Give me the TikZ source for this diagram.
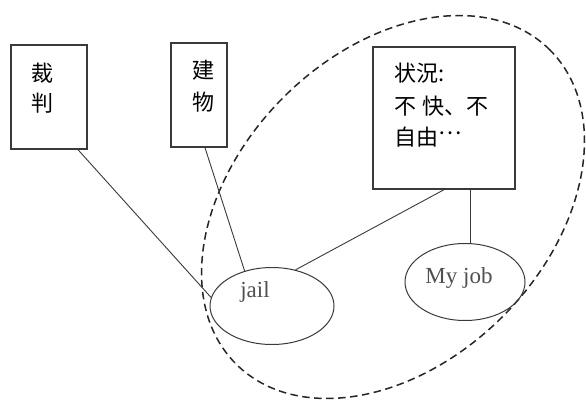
\documentclass[tikz,border=0pt]{standalone}
\usepackage{fontspec}
\setmainfont{Liberation Serif}
\newfontfamily\cjk{Noto Sans CJK JP}
\usetikzlibrary{shapes.geometric}
\definecolor{ink}{HTML}{3A3A3A}
\definecolor{lbl}{HTML}{505050}
\tikzset{
  boxnode/.style={draw=ink, line width=1.4pt, rectangle, inner sep=0pt},
  ovalnode/.style={draw=ink, line width=1pt, ellipse, inner sep=0pt, minimum width=124pt, minimum height=77pt},
  cjktext/.style={anchor=base west, inner sep=0pt, text=black, font=\cjk\fontsize{22}{32}\selectfont},
  lattext/.style={inner sep=0pt, text=lbl, font=\fontsize{23}{26}\selectfont},
  link/.style={draw=ink, line width=0.9pt},
  group/.style={draw=black!85, line width=1.5pt, dash pattern=on 7.5pt off 4.5pt}
}
\begin{document}
\begin{tikzpicture}[x=1pt,y=-1pt]
\useasboundingbox (0,0) rectangle (586,401);
\fill[white] (0,0) rectangle (586,401);
% dashed group outline
\node[group, ellipse, inner sep=0pt, rotate=45, minimum width=444pt, minimum height=310pt] (grp) at (393,207) {};
% boxes
\node[boxnode, minimum width=76pt, minimum height=104pt] (caipan) at (49,97) {};
\node[boxnode, minimum width=56pt, minimum height=104pt] (jianwu) at (199,95) {};
\node[boxnode, minimum width=142pt, minimum height=142pt] (zhuang) at (444,118) {};
% box texts
\node[cjktext] (t1) at (31,81.5) {裁};
\node[cjktext] (t2) at (31,111.5) {判};
\node[cjktext] (t3) at (192,79) {建};
\node[cjktext] (t4) at (192,111) {物};
\node[cjktext] (t5) at (394,81.5) {状況:};
\node[cjktext] (t6) at (394,114) {不\hspace{6pt}快、不};
\node[cjktext] (t7) at (394,146) {自由\raisebox{11pt}{…}};
% ellipses
\node[ovalnode] (jail) at (272,306) {};
\node[lattext] (jailt) at (255,292) {jail};
\node[ovalnode, minimum width=120pt] (myjob) at (465,282) {};
\node[lattext] (myjobt) at (459,278) {My job};
% connectors
\draw[link] ([xshift=29pt]caipan.south) -- (jail.172);
\draw[link] ([xshift=6pt]jianwu.south) -- (jail.128);
\draw[link] (zhuang.south) -- (jail.57);
\draw[link] ([xshift=26pt]zhuang.south) -- ([xshift=26pt]zhuang.south |- myjob.north);
\end{tikzpicture}
\end{document}
